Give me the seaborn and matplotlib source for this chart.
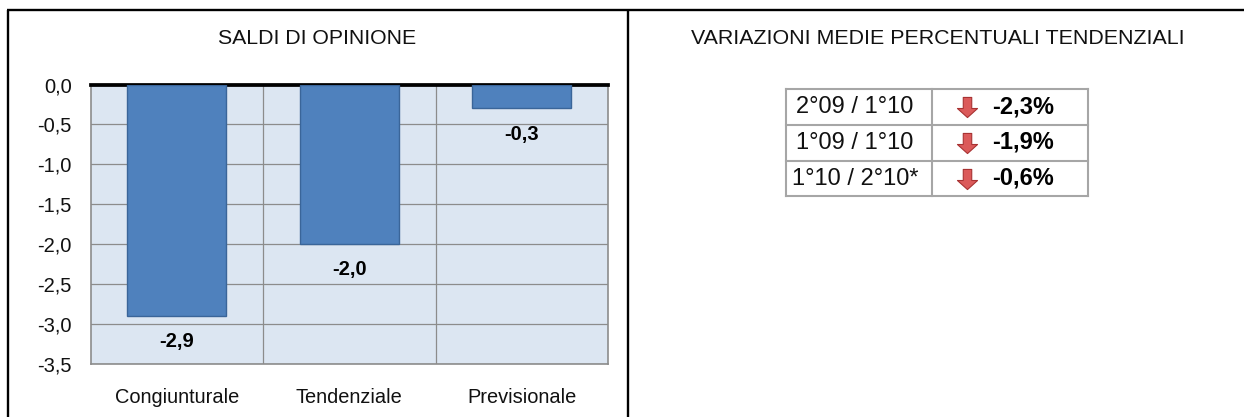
#!/usr/bin/env python

import numpy as np
import pandas as pd
from matplotlib import pyplot as plt
from matplotlib.path import Path
import seaborn as sns

categories = ["Congiunturale", "Tendenziale", "Previsionale"]
saldi = [-2.9, -2.0, -0.3]
y_ticks = [0.0, -0.5, -1.0, -1.5, -2.0, -2.5, -3.0, -3.5]

periods = ["2°09 / 1°10", "1°09 / 1°10", "1°10 / 2°10*"]
variations = [-2.3, -1.9, -0.6]

W, H = 1244, 417


def comma(v, nd=1):
    return f"{v:.{nd}f}".replace(".", ",")


sns.set_style("white")
plt.rcParams['font.family'] = ['Liberation Sans', 'DejaVu Sans']

fig = plt.figure(figsize=(W / 100, H / 100), dpi=100)

# bar chart, position given in pixels of the picture
left, right, top, bottom = 90.5, 608, 84.5, 363.5
ax = fig.add_axes([left / W, 1 - bottom / H, (right - left) / W, (bottom - top) / H])
df = pd.DataFrame({"categoria": categories, "saldo": saldi})
sns.barplot(data=df, x="categoria", y="saldo", color="#4F81BD", saturation=1, width=0.575,
            edgecolor="#3A6599", linewidth=1.0, ax=ax, zorder=3)
ax.set_facecolor("#DCE6F2")
ax.set_ylim(-3.5, 0)
ax.set_xlim(-0.5, 2.5)
ax.set_yticks(y_ticks)
ax.set_yticklabels([comma(v) for v in y_ticks], fontsize=14.5, color="#111111")
ax.set_xlabel("")
ax.set_ylabel("")
ax.tick_params(axis='x', length=0, pad=17.5, labelsize=14.4, labelcolor="#111111")
ax.tick_params(axis='y', length=0, pad=13.5)
ax.set_xticks([0, 1, 2])
ax.set_xticks([0.5, 1.5], minor=True)
ax.grid(True, axis='y', color="#8C8C8C", linewidth=0.9, zorder=1)
ax.grid(True, axis='x', which='minor', color="#8C8C8C", linewidth=0.9, zorder=1)
ax.tick_params(axis='x', which='minor', length=0)
ax.set_axisbelow(True)
for side in ['left', 'right', 'bottom']:
    ax.spines[side].set_color("#8C8C8C")
    ax.spines[side].set_linewidth(1.2)
ax.spines['top'].set_color("black")
ax.spines['top'].set_linewidth(2.7)
for i, v in enumerate(saldi):
    ax.annotate(comma(v), (i, v), xytext=(0, -26), textcoords="offset pixels",
                ha='center', va='center', fontsize=14.5, fontweight='bold', color="black", zorder=4)

# overlay in picture pixels for the frame, titles and the small table
ov = fig.add_axes([0, 0, 1, 1], zorder=5)
ov.set_xlim(0, W)
ov.set_ylim(H, 0)
ov.axis('off')
ov.patch.set_alpha(0)

ov.plot([8, 8], [10, H], color="black", lw=1.7, solid_capstyle='butt')
ov.plot([628, 628], [10, H], color="black", lw=1.7, solid_capstyle='butt')
ov.plot([7, W], [10, 10], color="black", lw=1.7, solid_capstyle='butt')

ov.text(317, 38, "SALDI DI OPINIONE", ha='center', va='center', fontsize=15.3, color="#111111")
ov.text(938, 38, "VARIAZIONI MEDIE PERCENTUALI TENDENZIALI", ha='center', va='center',
        fontsize=15.4, color="#111111")

# table
t_left, t_mid, t_right = 785.5, 931.5, 1088
row_y = [88.5, 124.5, 160.5, 196]
for y in row_y:
    ov.plot([t_left, t_right], [y, y], color="#A6A6A6", lw=1.5, solid_capstyle='projecting')
for x in [t_left, t_mid, t_right]:
    ov.plot([x, x], [row_y[0], row_y[-1]], color="#A6A6A6", lw=1.5, solid_capstyle='projecting')

arrow = Path([(-0.42, 1), (0.42, 1), (0.42, -0.1), (1, -0.1), (0, -1), (-1, -0.1), (-0.42, -0.1), (-0.42, 1)],
             closed=True)
for lab, v, y0, y1 in zip(periods, variations, row_y[:-1], row_y[1:]):
    yc = (y0 + y1) / 2
    ov.text(855, yc + 0.5, lab, ha='center', va='center', fontsize=17, color="#111111")
    ov.scatter([966.5], [yc + 0.5], marker=arrow, s=210, color="#DB5A5A", edgecolor="#A83232", linewidth=0.8)
    ov.text(992.5, yc, comma(v) + "%", ha='left', va='center', fontsize=17, fontweight='bold', color="black")

fig.savefig("out.png", dpi=100, facecolor="white")
plt.close(fig)
